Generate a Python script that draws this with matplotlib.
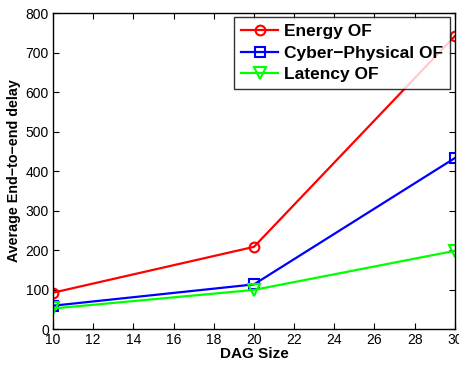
import matplotlib
matplotlib.use("Agg")
import matplotlib.pyplot as plt

plt.rcParams['font.family'] = ['Liberation Sans', 'DejaVu Sans']

dag_size = [10, 20, 30]
energy_of = [92, 208, 742]
cyber_of = [59, 113, 433]
latency_of = [52, 99, 198]

fig = plt.figure(figsize=(4.59, 3.65), dpi=100)
ax = fig.add_axes([0.1155, 0.0986, 0.8755, 0.8654])

ax.plot(dag_size, energy_of, color='#ff0000', marker='o', markersize=7,
        markerfacecolor='none', markeredgewidth=1.5, linewidth=1.6, label='Energy OF')
ax.plot(dag_size, cyber_of, color='#0000ff', marker='s', markersize=7,
        markerfacecolor='none', markeredgewidth=1.5, linewidth=1.6, label='Cyber\u2212Physical OF')
ax.plot(dag_size, latency_of, color='#00ff00', marker='v', markersize=8,
        markerfacecolor='none', markeredgewidth=1.5, linewidth=1.6, label='Latency OF')

ax.set_xlim(10, 30)
ax.set_ylim(0, 800)
ax.set_xticks(range(10, 31, 2))
ax.set_yticks(range(0, 801, 100))
ax.tick_params(direction='in', top=True, right=True, labelsize=10, length=4, width=0.8, pad=3)
for s in ax.spines.values():
    s.set_linewidth(1.0)

ax.set_xlabel('DAG Size', fontsize=11, fontweight='bold', labelpad=0)
ax.set_ylabel('Average End\u2212to\u2212end delay', fontsize=10.3, fontweight='bold', labelpad=3)

leg = ax.legend(loc='upper right', bbox_to_anchor=(0.9965, 0.9975),
                prop={'weight': 'bold', 'size': 12.5}, frameon=True, fancybox=False,
                edgecolor='black', borderpad=0.4, labelspacing=0.36, handlelength=2.1,
                handletextpad=0.35, borderaxespad=0.2)
leg.get_frame().set_linewidth(1.0)

fig.savefig('out.png', dpi=100)
